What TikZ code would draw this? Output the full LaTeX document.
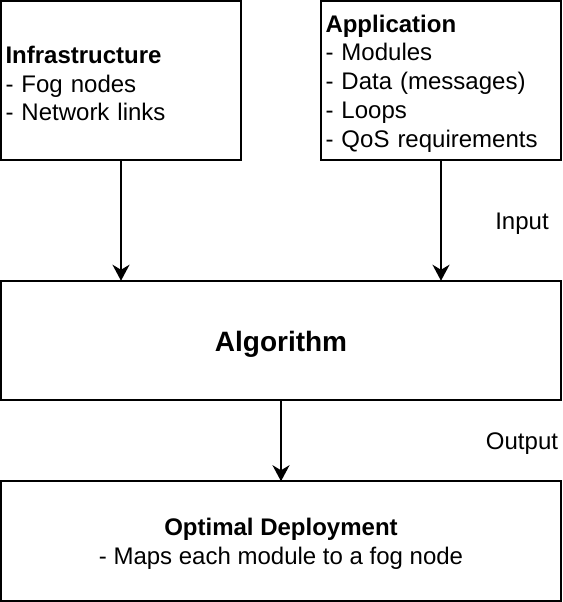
\documentclass[tikz,border=0pt]{standalone}
\usepackage{fontspec}
\setmainfont{Liberation Sans}
\usetikzlibrary{arrows.meta}
\begin{document}
\begin{tikzpicture}[x=1pt,y=-1pt,
  box/.style={draw,line width=2pt,inner sep=0pt,outer sep=0pt},
  listbox/.style={box,minimum width=240pt,minimum height=159pt},
  widebox/.style={box,minimum width=560pt,minimum height=119.5pt},
  listtxt/.style={inner sep=0pt,text width=231pt,align=left,font=\fontsize{24}{28.8}\selectfont},
  ctxt/.style={inner sep=0pt,align=center,font=\fontsize{24}{28.8}\selectfont},
  conn/.style={line width=2pt,-{Stealth[length=16pt,width=17pt,inset=5pt]}},
  lbl/.style={font=\fontsize{24}{28.8}\selectfont,inner sep=0pt}]
\useasboundingbox (0,0) rectangle (562,602);
\node[listbox] (infra) at (121,80.5) {};
\node[listbox] (app) at (441,80.5) {};
\node[widebox] (algo) at (281,340.5) {};
\node[widebox] (opt) at (281,541) {};
\node[listtxt] (infratxt) at ([yshift=-3pt]infra.center) {\textbf{Infrastructure}\\- Fog nodes\\- Network links};
\node[listtxt] (apptxt) at ([yshift=-3pt]app.center) {\textbf{Application}\\- Modules\\- Data (messages)\\- Loops\\- QoS requirements};
\node[ctxt,font=\fontsize{28}{33}\selectfont\bfseries] (algotxt) at ([yshift=-3.5pt]algo.center) {Algorithm};
\node[ctxt] (opttxt) at ([yshift=-3pt]opt.center) {\textbf{Optimal Deployment}\\- Maps each module to a fog node};
\draw[conn] (infra.south) -- (infra.south |- algo.north);
\draw[conn] (app.south) -- (app.south |- algo.north);
\draw[conn] (algo.south) -- (opt.north);
\node[lbl] (in) at (522,224) {Input};
\node[lbl] (out) at (522,444) {Output};
\end{tikzpicture}
\end{document}
